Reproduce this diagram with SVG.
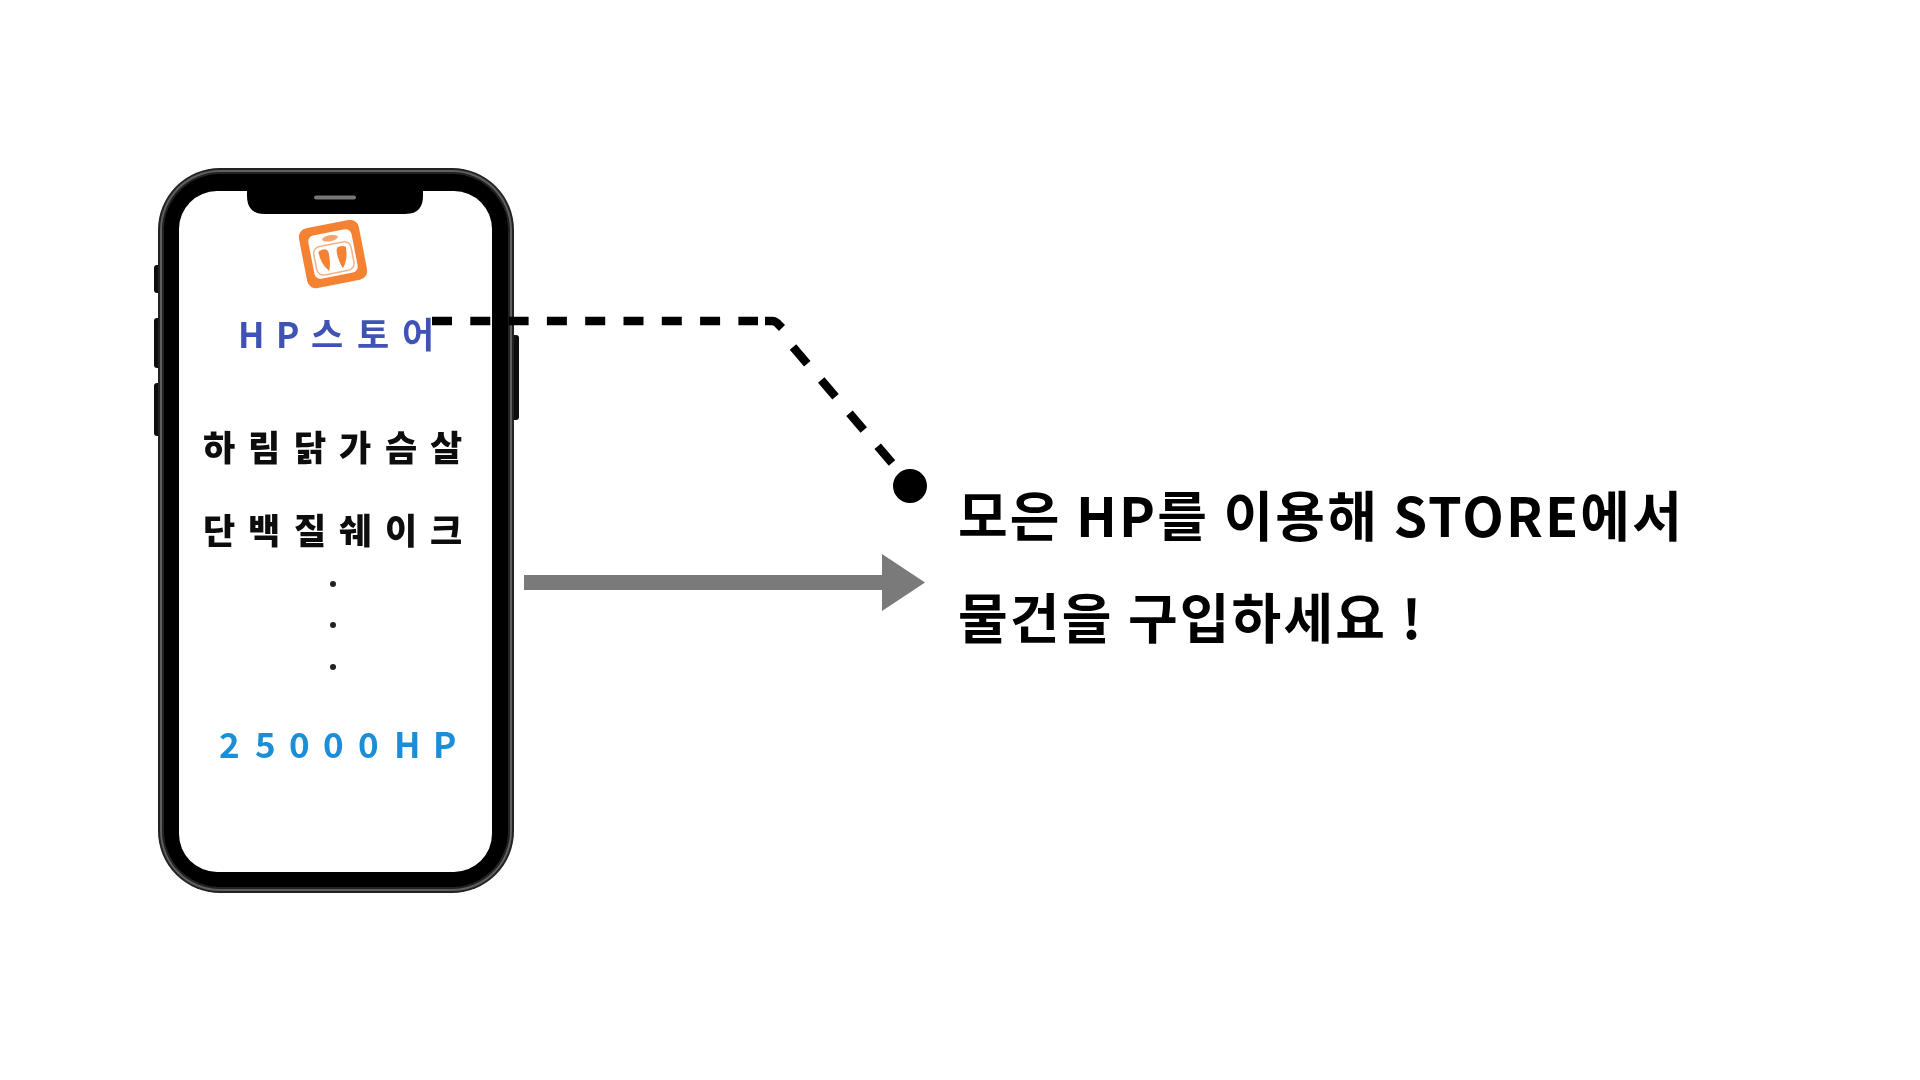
<svg xmlns="http://www.w3.org/2000/svg" width="1920" height="1080" viewBox="0 0 1920 1080">
<style>
text{font-family:"Noto Sans CJK KR","Noto Sans",sans-serif}
.s{font-size:35px;font-weight:700}
.k{font-size:35px;font-weight:900;fill:#111}
.m{font-size:54px;font-weight:700;fill:#000;letter-spacing:2.150px}
.d{fill:none;stroke:#000;stroke-width:8.500}
</style>
<defs><filter id="b" x="-5%" y="-5%" width="110%" height="110%"><feGaussianBlur stdDeviation="0.7"/></filter></defs>
<rect width="1920" height="1080" fill="#fff"/>
<g filter="url(#b)">
<g id="phone">
<rect x="154" y="265" width="8" height="28" rx="3" fill="#111"/>
<rect x="154" y="318" width="8" height="50" rx="3" fill="#111"/>
<rect x="154" y="383" width="8" height="53" rx="3" fill="#111"/>
<rect x="510" y="335" width="9" height="85" rx="3" fill="#111"/>
<rect x="158" y="168" width="356" height="725" rx="62" fill="#222"/>
<rect x="160" y="170" width="352" height="721" rx="60" fill="#5e5e5e"/>
<rect x="162" y="172" width="348" height="717" rx="58" fill="#222"/>
<rect x="164" y="174" width="344" height="713" rx="56" fill="#000"/>
<rect x="179" y="191" width="313" height="681" rx="38" fill="#fff"/>
<path d="M247 188H423V196Q423 214 405 214H265Q247 214 247 196Z" fill="#000"/>
<rect x="314" y="195.500" width="42" height="4" rx="2" fill="#777"/>
</g>
<g id="icon" transform="rotate(-11 333 254)">
<rect x="302.500" y="223.500" width="61" height="61" rx="9" fill="#f58232"/>
<rect x="311" y="232" width="44" height="44" rx="6" fill="#fff"/>
<rect x="314" y="244" width="38" height="29" rx="7" fill="none" stroke="#f8b183" stroke-width="1.500"/>
<ellipse cx="333" cy="238" rx="8" ry="3" fill="#f7a268"/>
<path d="M319 249Q329 245 329 253Q329 263 326 270Q319 262 319 249Z" fill="#f58232"/>
<path d="M347 249Q337 245 337 253Q337 263 340 270Q347 262 347 249Z" fill="#f58232"/>
</g>
<g id="labels">
<text class="s" fill="#3f52b5" y="348" x="238 276 311 357 402">HP스토어</text>
<text class="k" y="461" x="203 248 294 339 385 430">하림닭가슴살</text>
<text class="k" y="544" x="203 248 294 339 385 430">단백질쉐이크</text>
<circle cx="333" cy="584" r="3" fill="#222"/>
<circle cx="333" cy="625" r="3" fill="#222"/>
<circle cx="333" cy="667" r="3" fill="#222"/>
<text class="s" fill="#1f8ed8" y="758" x="219 255 289 323 358 394 433">25000HP</text>
</g>
<g id="connectors">
<path class="d" d="M432 321H758" stroke-dasharray="20 18.300"/>
<path class="d" d="M765 321H772Q776 321 779 325L782 328"/>
<path class="d" d="M793 347L892 463" stroke-dasharray="22 21.500"/>
<circle cx="910" cy="486" r="17" fill="#000"/>
<rect x="524" y="575" width="360" height="15" fill="#7a7a7a"/>
<path d="M882 554L925 582.500L882 611Z" fill="#7a7a7a"/>
</g>
<g id="caption">
<text class="m" x="958" y="537">모은 HP를 이용해 STORE에서</text>
<text class="m" x="958" y="638.500">물건을 구입하세요 !</text>
</g>
</g>
</svg>
